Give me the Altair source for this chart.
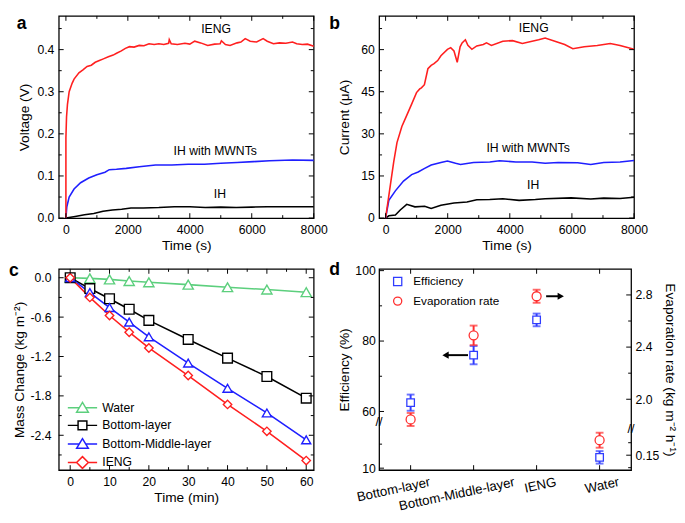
import altair as alt
import pandas as pd

FONT = "Liberation Sans"
RED = "#ff1f1f"
BLUE = "#1f1fff"
BLACK = "#000000"
GREEN = "#5ccf7d"
D_BLUE = "#2f3cff"
D_RED = "#ff2f2f"

# ---------------- panel a : voltage (V) vs time (s) ----------------
a_series = ["IH", "IH with MWNTs", "IENG"]
a_ih_t = [0, 300, 600, 900, 1200, 1500, 1800, 2100, 2500, 3000, 3500, 4000, 4500, 5000, 5500, 6000, 6500, 7000, 7500, 8000]
a_ih_v = [0, 0.004, 0.008, 0.011, 0.016, 0.019, 0.021, 0.024, 0.024, 0.025, 0.027, 0.027, 0.025, 0.026, 0.025, 0.026, 0.027, 0.027, 0.027, 0.027]
a_mwnt_t = [0, 30, 105, 263, 474, 737, 1000, 1263, 1400, 1632, 1947, 2368, 2895, 3421, 3947, 4474, 5000, 5526, 6053, 6579, 7316, 8000]
a_mwnt_v = [0, 0.027, 0.05, 0.069, 0.084, 0.095, 0.103, 0.109, 0.115, 0.116, 0.118, 0.122, 0.126, 0.126, 0.128, 0.128, 0.13, 0.132, 0.134, 0.136, 0.138, 0.137]
a_ieng_t = [0, 0, 20, 50, 105, 200, 263, 420, 550, 684, 820, 947, 1080, 1210, 1370, 1526, 1650, 1790, 1920, 2053,
            2200, 2368, 2520, 2684, 2850, 3000, 3160, 3316, 3337, 3400, 3600, 3842, 4000, 4158, 4350, 4579, 4800, 4980,
            5020, 5150, 5300, 5526, 5650, 5789, 5950, 6158, 6368, 6500, 6700, 6895, 7100, 7316, 7450, 7632, 7800, 8000]
a_ieng_v = [0, 0.19, 0.24, 0.27, 0.30, 0.32, 0.33, 0.345, 0.352, 0.36, 0.363, 0.37, 0.374, 0.378, 0.383, 0.387, 0.392,
            0.397, 0.403, 0.407, 0.406, 0.41, 0.409, 0.414, 0.412, 0.414, 0.412, 0.415, 0.424, 0.414, 0.412, 0.415,
            0.413, 0.42, 0.416, 0.41, 0.413, 0.414, 0.421, 0.412, 0.41, 0.416, 0.418, 0.426, 0.42, 0.418, 0.426, 0.42,
            0.414, 0.416, 0.415, 0.418, 0.414, 0.412, 0.413, 0.408]
a_note_text = ["IENG", "IH with MWNTs", "IH"]
a_note_t = [4850, 4820, 4970]
a_note_v = [0.448, 0.160, 0.057]

# ---------------- panel b : current (uA) vs time (s) ----------------
b_ih_t = [0, 105, 315, 472, 681, 944, 1258, 1468, 1782, 2202, 2621, 2936, 3355, 3775, 4299, 4823, 5138, 5976, 6606, 7025, 7550, 8000]
b_ih_v = [0, 0.8, 1.1, 2.9, 4.9, 4.0, 4.2, 3.4, 4.6, 5.4, 5.7, 6.5, 6.6, 6.9, 6.3, 6.6, 6.9, 7.2, 6.8, 7.1, 7.0, 7.4]
b_mwnt_t = [0, 105, 315, 577, 839, 1049, 1258, 1468, 1782, 1992, 2254, 2412, 2831, 3355, 3670, 4194, 4718, 5138, 5557, 6186, 6606, 7025, 7550, 8000]
b_mwnt_v = [0, 6.3, 9.7, 13.2, 15.5, 16.4, 17.7, 18.9, 19.8, 20.3, 19.5, 19.1, 19.8, 20.0, 20.4, 20.0, 20.0, 19.5, 19.8, 19.7, 19.1, 19.8, 20.0, 20.5]
b_ieng_t = [0, 157, 262, 367, 524, 681, 839, 996, 1100, 1153, 1250, 1363, 1468, 1560, 1678, 1782, 1992, 2097, 2202, 2307,
            2400, 2464, 2569, 2650, 2779, 2936, 3146, 3250, 3408, 3775, 4089, 4404, 4928, 5138, 5452, 5767, 6029, 6396,
            6815, 7235, 7550, 8000]
b_ieng_v = [0, 12.0, 20.0, 26.9, 32.6, 36.6, 40.6, 44.7, 46.0, 46.4, 47.5, 53.2, 54.4, 55.0, 56.1, 57.8, 60.1, 60.7, 59.5,
            55.5, 61.0, 62.4, 63.5, 61.5, 60.1, 61.3, 61.8, 62.4, 61.5, 63.0, 63.2, 62.2, 63.5, 64.1, 63.0, 61.8, 60.3,
            61.0, 61.5, 62.2, 61.5, 60.1]
b_note_text = ["IENG", "IH with MWNTs", "IH"]
b_note_t = [4770, 4590, 4750]
b_note_v = [67.6, 25.0, 11.8]

# ---------------- panel c : mass change vs time (min) ----------------
c_series = ["Water", "Bottom-layer", "Bottom-Middle-layer", "IENG"]
c_time = [0, 5, 10, 15, 20, 30, 40, 50, 60]
c_water = [0, -0.01, -0.025, -0.05, -0.07, -0.105, -0.145, -0.18, -0.22]
c_bottom = [0, -0.165, -0.32, -0.48, -0.65, -0.94, -1.225, -1.505, -1.835]
c_bottom_middle = [0, -0.227, -0.454, -0.676, -0.90, -1.30, -1.685, -2.06, -2.47]
c_ieng = [0, -0.30, -0.575, -0.83, -1.07, -1.49, -1.93, -2.34, -2.786]

# ---------------- panel d : efficiency / evaporation rate ----------------
d_cats = ["Bottom-layer", "Bottom-Middle-layer", "IENG", "Water"]
d_eff = [62.5, 76.0, 86.0, 14.5]
d_eff_err = [2.3, 2.6, 1.8, 2.6]
d_rate = [1.845, 2.49, 2.79, 0.21]
d_rate_err = [0.05, 0.075, 0.05, 0.03]

W_A = 261
W_B = 261
W_C = 261
W_D = 258
H1 = 207
H2 = 206
LBL = 12.5
TTL = 14
TIME_MAJOR = [0, 2000, 4000, 6000, 8000]
TIME_MINOR = [1000, 3000, 5000, 7000]


def series_df(names, times, values):
    rows = []
    for name, ts, vs in zip(names, times, values):
        assert len(ts) == len(vs), name
        for i, (t, v) in enumerate(zip(ts, vs)):
            rows.append({"series": name, "t": t, "v": v, "i": i})
    return pd.DataFrame(rows)


def xtick_rules(values, xtype, xsc, h, size):
    base = alt.Chart(pd.DataFrame({"tx": values})).mark_rule(color="black", strokeWidth=1)
    xe = alt.X("tx:" + xtype, scale=xsc, axis=None)
    return [base.encode(x=xe, y=alt.value(h), y2=alt.value(h - size)),
            base.encode(x=xe, y=alt.value(0), y2=alt.value(size))]


def ytick_rules(values, ysc, w, size, sides=("left", "right")):
    base = alt.Chart(pd.DataFrame({"ty": values})).mark_rule(color="black", strokeWidth=1)
    ye = alt.Y("ty:Q", scale=ysc, axis=None)
    out = []
    if "left" in sides:
        out.append(base.encode(y=ye, x=alt.value(0), x2=alt.value(size)))
    if "right" in sides:
        out.append(base.encode(y=ye, x=alt.value(w), x2=alt.value(w - size)))
    return out


def letter(ch, dx, dy):
    return alt.Chart(pd.DataFrame({"s": [ch]})).mark_text(
        font=FONT, fontSize=18, fontWeight="bold", align="left", baseline="top", color="black"
    ).encode(text="s:N", x=alt.value(dx), y=alt.value(dy))


def time_panel(names, times, values, colors, xdomain, ydomain, ymajor, yminor, yfmt, ytitle,
               ytitle_pad, notes, ch, ldx, w):
    df = series_df(names, times, values)
    xsc = alt.Scale(domain=xdomain, nice=False, zero=False)
    ysc = alt.Scale(domain=ydomain, nice=False, zero=False)
    main = alt.Chart(df).mark_line(strokeWidth=1.6).encode(
        x=alt.X("t:Q", scale=xsc, axis=alt.Axis(orient="bottom", values=TIME_MAJOR, format="d",
                                                  title="Time (s)", ticks=False, domain=False,
                                                  labelPadding=6, titlePadding=3, labelFlush=False,
                                                  labelOverlap=False)),
        y=alt.Y("v:Q", scale=ysc, axis=alt.Axis(orient="left", values=ymajor, format=yfmt, title=ytitle,
                                                  ticks=False, domain=False, labelPadding=5,
                                                  titlePadding=ytitle_pad, labelFlush=False,
                                                  labelOverlap=False)),
        color=alt.Color("series:N", scale=alt.Scale(domain=names, range=colors), legend=None),
        order=alt.Order("i:Q"),
    )
    ndf = pd.DataFrame({"label": notes[0], "t": notes[1], "v": notes[2]})
    txt = alt.Chart(ndf).mark_text(font=FONT, fontSize=12.5, color="black").encode(
        x=alt.X("t:Q", scale=xsc, axis=None), y=alt.Y("v:Q", scale=ysc, axis=None), text="label:N")
    ticks = (xtick_rules(TIME_MAJOR, "Q", xsc, H1, 5) + xtick_rules(TIME_MINOR, "Q", xsc, H1, 3)
             + ytick_rules(ymajor, ysc, w, 5) + ytick_rules(yminor, ysc, w, 3))
    return alt.layer(main, txt, letter(ch, ldx, -1), *ticks).properties(
        width=w, height=H1).resolve_axis(x="independent", y="independent")


panel_a = time_panel(a_series, [a_ih_t, a_mwnt_t, a_ieng_t], [a_ih_v, a_mwnt_v, a_ieng_v],
                     [BLACK, BLUE, RED], [-230, 8000], [0, 0.48],
                     [0, 0.1, 0.2, 0.3, 0.4], [0.05, 0.15, 0.25, 0.35, 0.45], ".1f", "Voltage (V)", 6,
                     (a_note_text, a_note_t, a_note_v), "a", -43, W_A)
panel_b = time_panel(a_series, [b_ih_t, b_mwnt_t, b_ieng_t], [b_ih_v, b_mwnt_v, b_ieng_v],
                     [BLACK, BLUE, RED], [-208, 8000], [0, 72],
                     [0, 15, 30, 45, 60], [7.5, 22.5, 37.5, 52.5, 67.5], "d", "Current (\u03bcA)", 9,
                     (b_note_text, b_note_t, b_note_v), "b", -51, W_B)

# ---------------- panel c ----------------
c_df = pd.DataFrame([
    {"series": s, "t": t, "m": m}
    for s, vals in zip(c_series, [c_water, c_bottom, c_bottom_middle, c_ieng])
    for t, m in zip(c_time, vals)
])
xs_c = alt.Scale(domain=[-2.9, 61.9], nice=False, zero=False)
ys_c = alt.Scale(domain=[-2.93, 0.135], nice=False, zero=False)
c_colors = [GREEN, BLACK, BLUE, RED]

# legend symbols: marker with a short line through it
TRI = "M-3,0H-0.66M0.66,0H3M0,-1.1L1.2,0.9L-1.2,0.9Z"
SQ = "M-3,0H-0.9M0.9,0H3M-0.9,-0.9H0.9V0.9H-0.9Z"
DIA = "M-3,0H-1.2M1.2,0H3M0,-1.2L1.2,0L0,1.2L-1.2,0Z"
leg_c = alt.Legend(title=None, orient="none", legendX=18, legendY=H2 - 70, symbolSize=100,
                   symbolStrokeWidth=1.5, symbolOpacity=1, labelOffset=14, rowPadding=2, padding=0,
                   labelFontSize=12.5, labelFont=FONT)

c_lines = alt.Chart(c_df).mark_line(strokeWidth=1.6).encode(
    x=alt.X("t:Q", scale=xs_c, axis=alt.Axis(orient="bottom", values=[0, 10, 20, 30, 40, 50, 60], format="d",
                                               title="Time (min)", ticks=False, domain=False, labelPadding=6,
                                               titlePadding=3, labelFlush=False, labelOverlap=False)),
    y=alt.Y("m:Q", scale=ys_c, axis=alt.Axis(orient="left", values=[0, -0.6, -1.2, -1.8, -2.4],
                                               labelExpr="replace(format(datum.value, '.1f'), '\u2212', '-')",
                                               title="Mass Change (kg m\u207b\u00b2)", ticks=False, domain=False,
                                               labelPadding=8, titlePadding=4, labelFlush=False,
                                               labelOverlap=False)),
    color=alt.Color("series:N", scale=alt.Scale(domain=c_series, range=c_colors), legend=None),
)
c_points = alt.Chart(c_df).mark_point(filled=False, fill="white", strokeWidth=1.4, opacity=1).encode(
    x=alt.X("t:Q", scale=xs_c, axis=None),
    y=alt.Y("m:Q", scale=ys_c, axis=None),
    color=alt.Color("series:N", scale=alt.Scale(domain=c_series, range=c_colors), legend=None),
    shape=alt.Shape("series:N", scale=alt.Scale(domain=c_series, range=["triangle-up", "square", "triangle-up", "diamond"]),
                    legend=None),
    size=alt.Size("series:N", scale=alt.Scale(domain=c_series, range=[110, 75, 110, 140]), legend=None),
)
c_legend_layer = alt.Chart(c_df).mark_point(filled=False, fill="white", opacity=0).encode(
    x=alt.X("t:Q", scale=xs_c, axis=None),
    y=alt.Y("m:Q", scale=ys_c, axis=None),
    color=alt.Color("series:N", scale=alt.Scale(domain=c_series, range=c_colors), legend=leg_c),
    shape=alt.Shape("series:N", scale=alt.Scale(domain=c_series, range=[TRI, SQ, TRI, DIA]), legend=leg_c),
)
# invisible spacer keeping the gap between panels c and d
c_gap = alt.Chart(pd.DataFrame({"s": ["."]})).mark_text(opacity=0, align="left", font=FONT, fontSize=12).encode(
    text="s:N", x=alt.value(W_C + 3), y=alt.value(H2 / 2))
c_ticks = (xtick_rules([0, 10, 20, 30, 40, 50, 60], "Q", xs_c, H2, 5)
           + xtick_rules([5, 15, 25, 35, 45, 55], "Q", xs_c, H2, 3)
           + ytick_rules([0, -0.6, -1.2, -1.8, -2.4], ys_c, W_C, 5)
           + ytick_rules([-0.3, -0.9, -1.5, -2.1, -2.7], ys_c, W_C, 3))
panel_c = alt.layer(c_lines, c_points, c_legend_layer, c_gap, letter("c", -51, -7), *c_ticks).properties(
    width=W_C, height=H2).resolve_axis(x="independent", y="independent").resolve_scale(
    color="independent", shape="independent")


# ---------------- panel d (broken axes) ----------------
def eff_disp(v):
    return v if v >= 57 else 43.9 + (v - 10) * (2.5 / 3.665)


def rate_disp(v):
    return v if v >= 1.75 else 1.571 + (v - 0.15) * 1.915


eff_df = pd.DataFrame({
    "cat": d_cats,
    "y": [eff_disp(v) for v in d_eff],
    "lo": [eff_disp(v - e) for v, e in zip(d_eff, d_eff_err)],
    "hi": [eff_disp(v + e) for v, e in zip(d_eff, d_eff_err)],
    "series": "Efficiency",
})
rate_df = pd.DataFrame({
    "cat": d_cats,
    "y": [rate_disp(v) for v in d_rate],
    "lo": [rate_disp(v - e) for v, e in zip(d_rate, d_rate_err)],
    "hi": [rate_disp(v + e) for v, e in zip(d_rate, d_rate_err)],
    "series": "Evaporation rate",
})
eff_caps = pd.DataFrame({"cat": d_cats * 2, "y": list(eff_df["lo"]) + list(eff_df["hi"])})
rate_caps = pd.DataFrame({"cat": d_cats * 2, "y": list(rate_df["lo"]) + list(rate_df["hi"])})

xsc_d = alt.Scale(type="point", domain=d_cats, padding=0.5)
eff_sc = alt.Scale(domain=[43.36, 100.5], nice=False, zero=False)
rate_sc = alt.Scale(domain=[1.457, 3.0], nice=False, zero=False)
cs_d = alt.Scale(domain=["Efficiency", "Evaporation rate"], range=[D_BLUE, D_RED])
ss_d = alt.Scale(domain=["Efficiency", "Evaporation rate"], range=["square", "circle"])
leg_d = alt.Legend(title=None, orient="none", legendX=13, legendY=7, symbolSize=70, symbolStrokeWidth=1.3,
                   symbolOpacity=1, labelOffset=10, rowPadding=6, padding=0, labelFontSize=12, labelFont=FONT)

eff_major = [eff_disp(10), 60, 80, 100]
eff_minor = [eff_disp(20), 70, 90]
rate_major = [rate_disp(0.15), 2.0, 2.4, 2.8]
rate_minor = [rate_disp(0.10), rate_disp(0.20), 2.2, 2.6]


def xd(axis=None):
    return alt.X("cat:N", scale=xsc_d, axis=axis)


eff_rule = alt.Chart(eff_df).mark_rule(color=D_BLUE, strokeWidth=2).encode(
    x=xd(alt.Axis(orient="bottom", labelAngle=348, labelAlign="right", labelBaseline="top",
                  labelOffset={"condition": {"test": "datum.value === 'Bottom-Middle-layer'", "value": 40},
                               "value": 18},
                  labelPadding=5, labelFontSize=13.5, ticks=False, domain=False, title=None,
                  labelOverlap=False, labelFlush=False)),
    y=alt.Y("lo:Q", scale=eff_sc, axis=alt.Axis(orient="left", values=eff_major,
                                                 labelExpr="datum.value < 50 ? '10' : format(datum.value, 'd')",
                                                 title="Efficiency (%)", ticks=False, domain=False,
                                                 labelPadding=4, titlePadding=3, labelOverlap=False,
                                                 labelFlush=False)),
    y2="hi:Q",
)
eff_cap = alt.Chart(eff_caps).mark_tick(color=D_BLUE, size=8, thickness=2).encode(
    x=xd(), y=alt.Y("y:Q", scale=eff_sc, axis=None))
rate_rule = alt.Chart(rate_df).mark_rule(color=D_RED, strokeWidth=2).encode(
    x=xd(),
    y=alt.Y("lo:Q", scale=rate_sc, axis=alt.Axis(orient="right", values=rate_major,
                                                  labelExpr="datum.value < 1.8 ? '0.15' : format(datum.value, '.1f')",
                                                  title="Evaporation rate (kg m\u207b\u00b2 h\u207b\u00b9)",
                                                  ticks=False, domain=False, labelPadding=4, titlePadding=4,
                                                  labelOverlap=False, labelFlush=False)),
    y2="hi:Q",
)
rate_cap = alt.Chart(rate_caps).mark_tick(color=D_RED, size=8, thickness=2).encode(
    x=xd(), y=alt.Y("y:Q", scale=rate_sc, axis=None))
eff_pts = alt.Chart(eff_df).mark_point(filled=False, fill="white", size=60, strokeWidth=1.3, opacity=1).encode(
    x=xd(), y=alt.Y("y:Q", scale=eff_sc, axis=None),
    color=alt.Color("series:N", scale=cs_d, legend=leg_d),
    shape=alt.Shape("series:N", scale=ss_d, legend=leg_d))
rate_pts = alt.Chart(rate_df).mark_point(filled=False, fill="white", size=85, strokeWidth=1.3, opacity=1).encode(
    x=xd(), y=alt.Y("y:Q", scale=rate_sc, axis=None),
    color=alt.Color("series:N", scale=cs_d, legend=leg_d),
    shape=alt.Shape("series:N", scale=ss_d, legend=leg_d))

r_arrow = pd.DataFrame({"v": [rate_df["y"][2]]})
l_arrow = pd.DataFrame({"v": [eff_df["y"][1]]})
arrow_r_line = alt.Chart(r_arrow).mark_rule(color="black", strokeWidth=2).encode(
    x=alt.value(171), x2=alt.value(184), y=alt.Y("v:Q", scale=rate_sc, axis=None))
arrow_r_head = alt.Chart(r_arrow).mark_point(shape="triangle-right", filled=True, size=55, color="black",
                                             opacity=1).encode(
    x=alt.value(186), y=alt.Y("v:Q", scale=rate_sc, axis=None))
arrow_l_line = alt.Chart(l_arrow).mark_rule(color="black", strokeWidth=2).encode(
    x=alt.value(91), x2=alt.value(70), y=alt.Y("v:Q", scale=eff_sc, axis=None))
arrow_l_head = alt.Chart(l_arrow).mark_point(shape="triangle-left", filled=True, size=55, color="black",
                                             opacity=1).encode(
    x=alt.value(68), y=alt.Y("v:Q", scale=eff_sc, axis=None))
brk_l = alt.Chart(pd.DataFrame({"v": [56.9], "s": ["//"]})).mark_text(font=FONT, fontSize=13, color="black").encode(
    x=alt.value(0), y=alt.Y("v:Q", scale=eff_sc, axis=None), text="s:N")
brk_r = alt.Chart(pd.DataFrame({"v": [1.772], "s": ["//"]})).mark_text(font=FONT, fontSize=13, color="black").encode(
    x=alt.value(W_D), y=alt.Y("v:Q", scale=rate_sc, axis=None), text="s:N")

d_ticks = (xtick_rules(d_cats, "N", xsc_d, H2, 5)
           + ytick_rules(eff_major, eff_sc, W_D, 5, sides=("left",))
           + ytick_rules(eff_minor, eff_sc, W_D, 3, sides=("left",))
           + ytick_rules(rate_major, rate_sc, W_D, 5, sides=("right",))
           + ytick_rules(rate_minor, rate_sc, W_D, 3, sides=("right",)))

panel_d = alt.layer(eff_rule, eff_cap, rate_rule, rate_cap, eff_pts, rate_pts,
                    arrow_r_line, arrow_r_head, arrow_l_line, arrow_l_head, brk_l, brk_r,
                    letter("d", -51, -8), *d_ticks).properties(width=W_D, height=H2).resolve_scale(
    x="independent", y="independent").resolve_axis(x="independent", y="independent")

chart = alt.concat(panel_a, panel_b, panel_c, panel_d, columns=2,
                   align={"row": "all", "column": "none"},
                   spacing={"row": 0, "column": 0}, padding=0).resolve_scale(
    color="independent", shape="independent", size="independent")
chart = chart.configure(font=FONT).configure_axis(
    labelFont=FONT, titleFont=FONT, labelFontSize=LBL, titleFontSize=TTL, labelColor="black",
    titleColor="black", titleFontWeight="normal", grid=False
).configure_view(stroke="black", strokeWidth=1.3).configure_legend(labelFont=FONT, labelColor="black")

chart.save("out.html", embed_options={"renderer": "svg", "actions": False})
